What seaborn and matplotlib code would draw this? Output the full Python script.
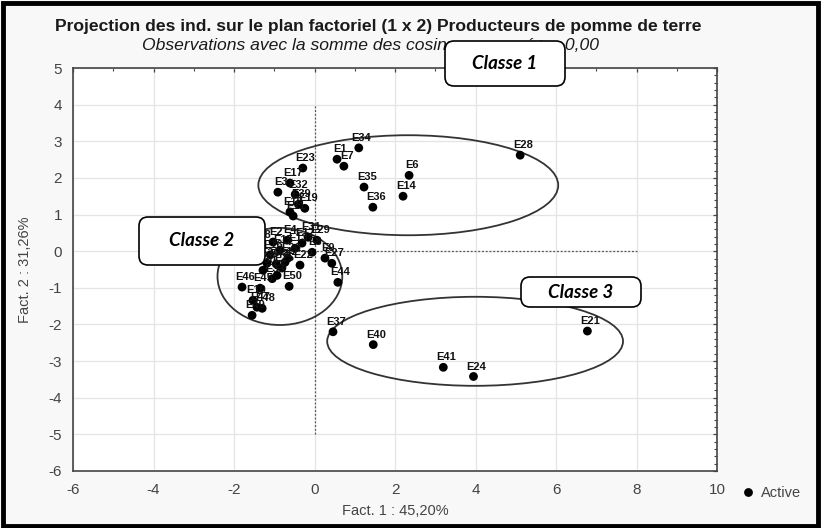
import matplotlib
matplotlib.use("Agg")
import matplotlib.pyplot as plt
from matplotlib.patches import Ellipse, FancyBboxPatch, Rectangle
from matplotlib.ticker import MultipleLocator
import numpy as np
import pandas as pd
import seaborn as sns

# Individual coordinates on the first factorial plane
labels = ["E28", "E34", "E1", "E7", "E6", "E14", "E35", "E36", "E23", "E17",
          "E3", "E32", "E18", "E19", "E39", "E11",
          "E37", "E40", "E41", "E24", "E21",
          "E2", "E4", "E12", "E29", "E8", "E9", "E27", "E44", "E20", "E26",
          "E30", "E5", "E50", "E46", "E45", "E10", "E47", "E48", "E49", "E13",
          "E15", "E16", "E22", "E25", "E31", "E38", "E42", "E43", "E33"]
fact1 = [5.11, 1.10, 0.56, 0.73, 2.35, 2.20, 1.23, 1.45, -0.29, -0.61,
         -0.91, -0.48, -0.61, -0.24, -0.40, -0.53,
         0.46, 1.46, 3.20, 3.95, 6.78,
         -1.03, -0.68, -0.31, 0.06, -0.06, 0.26, 0.43, 0.58, -0.66, -1.18,
         -1.28, -0.93, -0.63, -1.80, -1.35, -1.53, -1.43, -1.30, -1.55, -0.48,
         -0.86, -1.10, -0.36, -0.81, -0.16, -1.40, -0.73, -0.95, -1.05]
fact2 = [2.62, 2.82, 2.51, 2.32, 2.07, 1.50, 1.75, 1.20, 2.27, 1.86,
         1.61, 1.55, 1.07, 1.17, 1.28, 0.96,
         -2.20, -2.55, -3.17, -3.42, -2.18,
         0.25, 0.30, 0.22, 0.30, -0.03, -0.19, -0.33, -0.85, -0.19, -0.33,
         -0.52, -0.66, -0.96, -0.98, -1.01, -1.34, -1.53, -1.56, -1.75, 0.08,
         0.03, -0.10, -0.38, -0.46, 0.38, 0.16, -0.30, -0.35, -0.75]

# Class ellipses: centre x, centre y, width, height
class_names = ["Classe 1", "Classe 2", "Classe 3"]
ell_cx = [2.33, -0.86, 3.99]
ell_cy = [1.80, -0.69, -2.46]
ell_w = [7.45, 3.10, 7.35]
ell_h = [2.73, 2.65, 2.43]

W, H = 821, 528
sns.set_style("white")
plt.rcParams["font.family"] = ["Liberation Sans", "DejaVu Sans"]
plt.rcParams["axes.unicode_minus"] = False

fig = plt.figure(figsize=(W / 100, H / 100), dpi=100)
fig.patch.set_facecolor("#f8f8f8")
ax = fig.add_axes([73 / W, 1 - 471 / H, 644 / W, 403 / H])
ax.set_facecolor("white")

df = pd.DataFrame({"Fact1": fact1, "Fact2": fact2, "label": labels,
                   "type": ["Active"] * len(labels)})

# reference axes through the origin
ax.plot([0, 0], [-5, 4], ls=(0, (1.5, 1.5)), color="#555555", lw=0.9, zorder=1)
ax.plot([-2, 8], [0, 0], ls=(0, (1.5, 1.5)), color="#555555", lw=0.9, zorder=1)

sns.scatterplot(data=df, x="Fact1", y="Fact2", hue="type", palette=["black"],
                s=40, edgecolor="black", linewidth=0, ax=ax, zorder=3)

for lab, x, y in zip(labels, fact1, fact2):
    ax.annotate(lab, (x, y), xytext=(2, 3.5), textcoords="offset points",
                ha="center", va="bottom", fontsize=8, fontweight="bold",
                color="#111111", zorder=4,
                family=["Liberation Sans Narrow", "Liberation Sans"])

for cx, cy, w, h in zip(ell_cx, ell_cy, ell_w, ell_h):
    ax.add_patch(Ellipse((cx, cy), w, h, fill=False, edgecolor="#333333",
                         lw=1.3, zorder=2))

ax.set_xlim(-6, 10)
ax.set_ylim(-6, 5)
ax.xaxis.set_major_locator(MultipleLocator(2))
ax.xaxis.set_minor_locator(MultipleLocator(1))
ax.yaxis.set_major_locator(MultipleLocator(1))
ax.yaxis.set_minor_locator(MultipleLocator(0.2))
ax.grid(True, which="major", color="#e4e4e4", lw=0.9)
ax.set_axisbelow(True)
ax.tick_params(which="both", direction="in", top=True, right=True,
               color="#444444", labelsize=11, labelcolor="#444444")
ax.tick_params(which="major", length=3, width=0.9)
ax.tick_params(which="minor", length=2, width=0.8)
ax.tick_params(axis="x", pad=9)
ax.tick_params(axis="y", pad=8)
for sp in ax.spines.values():
    sp.set_color("#444444")
    sp.set_linewidth(1.2)
ax.set_xlabel("Fact. 1 : 45,20%", fontsize=10.5, color="#444444", labelpad=5)
ax.set_ylabel("Fact. 2 : 31,26%", fontsize=10.5, color="#444444", labelpad=12)

leg = ax.legend(loc="center left", bbox_to_anchor=(1.035, -0.055), frameon=False,
                fontsize=10.5, handletextpad=0.3, handlelength=1.2,
                borderpad=0, borderaxespad=0)
for t in leg.get_texts():
    t.set_color("#444444")

fig.text(378 / W, 1 - 27 / H,
         "Projection des ind. sur le plan factoriel (1 x 2) Producteurs de pomme de terre",
         ha="center", va="center", fontsize=12.6, fontweight="bold", color="#1a1a1a")
fig.text(142 / W, 1 - 45 / H,
         "Observations avec la somme des cosinus au carré >= 0,00",
         ha="left", va="center", fontsize=12.6, style="italic", color="#1a1a1a")

# class name boxes (pixel extents: left, top, right, bottom)
boxes = [(445, 41, 565, 86), (139, 217, 265, 265), (521, 277, 641, 307)]
for name, (x0, y0, x1, y1) in zip(class_names, boxes):
    fig.patches.append(FancyBboxPatch(
        (x0 / W, 1 - y1 / H), (x1 - x0) / W, (y1 - y0) / H,
        boxstyle="round,pad=0,rounding_size=0.011", mutation_aspect=W / H,
        transform=fig.transFigure, facecolor="white", edgecolor="black",
        lw=1.2, zorder=10))
    fig.text((x0 + x1) / 2 / W, 1 - (y0 + y1) / 2 / H, name, ha="center",
             va="center", fontsize=13.5, fontweight="bold", style="italic",
             color="black", zorder=11, family=["Lato", "Liberation Sans"])

# outer frame
fig.patches.append(Rectangle((0.004, 0.004), 0.992, 0.99, transform=fig.transFigure,
                             fill=False, edgecolor="black", lw=3.5, zorder=12))

fig.savefig("out.png", dpi=100, facecolor=fig.get_facecolor())
